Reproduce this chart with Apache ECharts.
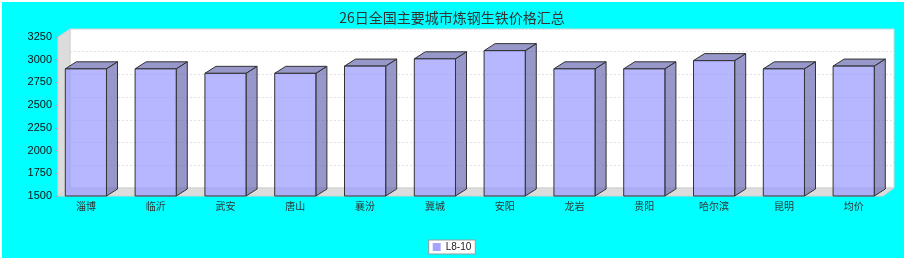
<!DOCTYPE html>
<html>
<head>
<meta charset="utf-8">
<script src="https://cdn.jsdelivr.net/npm/echarts@6/dist/echarts.min.js"></script>
<style>
  html, body { margin: 0; padding: 0; background: #ffffff; }
  #bg { position: absolute; left: 2px; top: 2px; width: 902px; height: 256px; background: #00ffff; }
  #c { position: absolute; left: 0; top: 0; width: 904px; height: 261px; }
</style>
</head>
<body>
<div id="bg"></div>
<div id="c"></div>
<script>
const titleText = '26日全国主要城市炼钢生铁价格汇总';
const seriesName = 'L8-10';
const categories = ['淄博', '临沂', '武安', '唐山', '襄汾', '冀城', '安阳', '龙岩', '贵阳', '哈尔滨', '昆明', '均价'];
const values = [2900, 2900, 2850, 2850, 2930, 3010, 3100, 2900, 2900, 2990, 2900, 2930];
const yMin = 1500, yMax = 3250, yStep = 250;

const DX = 11, DY = 7;           // bar depth offset
const FRONT = 'rgba(153,153,255,0.7)';
const DARK = 'rgba(107,107,178,0.7)';
const EDGE = '#333';

const chart = echarts.init(document.getElementById('c'), null, { renderer: 'canvas' });

const option = {
  backgroundColor: 'transparent',
  animation: false,
  title: {
    text: titleText,
    left: 'center',
    top: 6,
    textStyle: { fontSize: 14, fontWeight: 'normal', color: '#333', fontFamily: 'Noto Sans CJK SC' }
  },
  legend: {
    left: 'center',
    top: 240,
    backgroundColor: '#fff',
    borderColor: '#999',
    borderWidth: 1,
    borderRadius: 0,
    padding: [2, 4, 2, 4],
    itemWidth: 8,
    itemHeight: 8,
    itemGap: 5,
    data: [{ name: seriesName, icon: 'rect', itemStyle: { color: '#a4a4ff' } }],
    textStyle: { fontSize: 10, color: '#222', fontFamily: 'Liberation Sans' }
  },
  graphic: [
    { type: 'polygon', z: 1, silent: true,
      shape: { points: [[58, 37], [70, 29], [70, 188], [58, 196]] },
      style: { fill: '#dcdcdc', stroke: '#d0d0d0', lineWidth: 1 } },
    { type: 'polygon', z: 1, silent: true,
      shape: { points: [[58, 196], [70, 188], [894, 188], [883, 196]] },
      style: { fill: '#dcdcdc', stroke: '#d0d0d0', lineWidth: 1 } }
  ],
  grid: [
    { left: 58, right: 22, top: 37, bottom: 65, show: false },
    { left: 51, right: 15.4, top: 37, bottom: 65, show: false },
    { left: 70, right: 10, top: 29, bottom: 73, show: true, backgroundColor: '#ffffff', borderColor: '#d8d8d8', borderWidth: 1, z: 0 }
  ],
  xAxis: [
    { gridIndex: 0, type: 'category', data: categories, show: false },
    { gridIndex: 1, type: 'category', data: categories,
      axisLine: { show: false }, axisTick: { show: false },
      axisLabel: { margin: 5, fontSize: 10, color: '#333', fontFamily: 'Noto Sans CJK SC', interval: 0 } },
    { gridIndex: 2, type: 'category', data: categories, show: false }
  ],
  yAxis: [
    { gridIndex: 0, type: 'value', min: yMin, max: yMax, interval: yStep,
      axisLine: { show: false },
      axisTick: { show: true, length: 3, lineStyle: { color: '#b99' } },
      splitLine: { show: false },
      axisLabel: { margin: 6, fontSize: 11, color: '#111', fontFamily: 'Liberation Sans',
        formatter: function (v) { return String(v); } } },
    { gridIndex: 1, type: 'value', min: yMin, max: yMax, interval: yStep, show: false, splitLine: { show: false } },
    { gridIndex: 2, type: 'value', min: yMin, max: yMax, interval: yStep,
      axisLine: { show: false }, axisTick: { show: false }, axisLabel: { show: false },
      splitLine: { show: true, lineStyle: { color: '#e2e2e2', type: [2, 2], width: 1 } } }
  ],
  series: [
    {
      name: seriesName,
      type: 'custom',
      xAxisIndex: 1,
      yAxisIndex: 1,
      z: 5,
      itemStyle: { color: '#a4a4ff' },
      data: categories.map((c, i) => [i, values[i]]),
      renderItem: function (params, api) {
        const idx = api.value(0);
        const top = api.coord([idx, api.value(1)]);
        const base = api.coord([idx, yMin]);
        const bw = api.size([1, 0])[0] * 0.59;
        const x0 = top[0] - bw / 2, x1 = top[0] + bw / 2;
        const yt = top[1], yb = base[1];
        return {
          type: 'group',
          children: [
            { type: 'polygon',
              shape: { points: [[x1, yt], [x1 + DX, yt - DY], [x1 + DX, yb - DY], [x1, yb]] },
              style: { fill: DARK, stroke: EDGE, lineWidth: 1 } },
            { type: 'polygon',
              shape: { points: [[x0, yt], [x0 + DX, yt - DY], [x1 + DX, yt - DY], [x1, yt]] },
              style: { fill: DARK, stroke: EDGE, lineWidth: 1 } },
            { type: 'rect',
              shape: { x: x0, y: yt, width: bw, height: yb - yt },
              style: { fill: FRONT, stroke: EDGE, lineWidth: 1 } }
          ]
        };
      }
    }
  ]
};
chart.setOption(option);
</script>
</body>
</html>
